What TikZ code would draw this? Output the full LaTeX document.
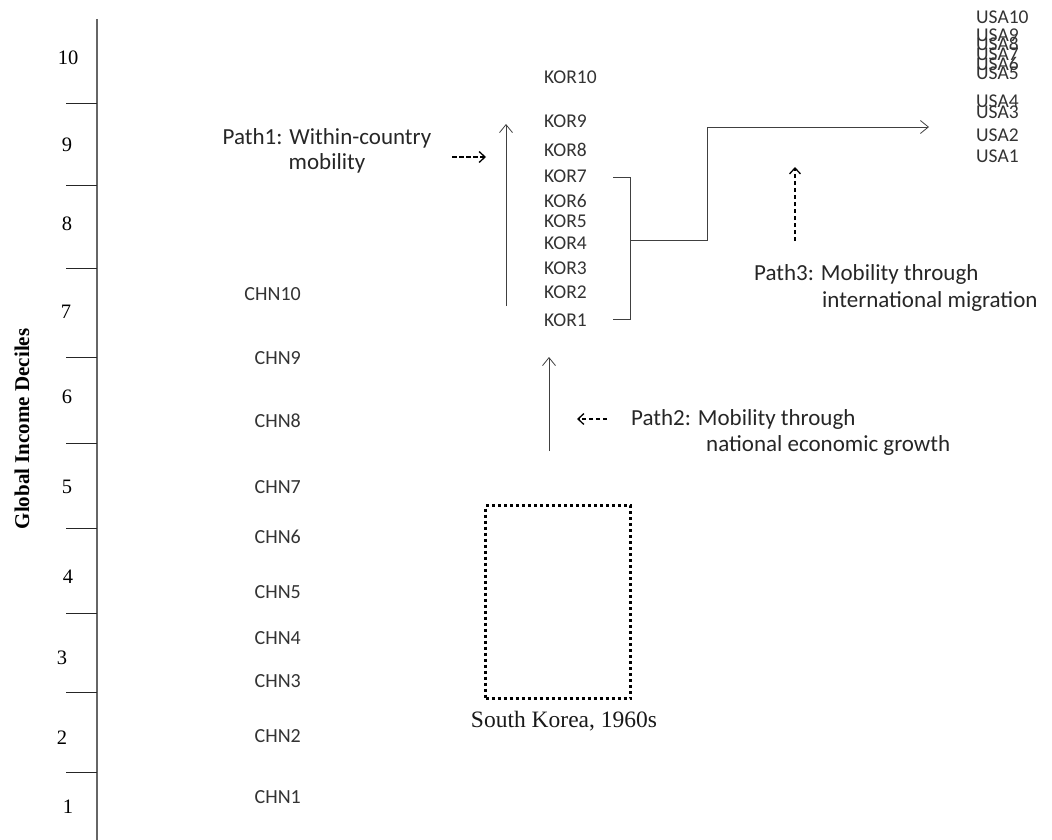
\documentclass[tikz,border=0pt]{standalone}
\usepackage{fontspec}
\setmainfont{Liberation Serif}
\newfontfamily\calib{Carlito}
\usetikzlibrary{arrows.meta}
\begin{document}
\begin{tikzpicture}[x=1pt,y=-1pt,
  lbl/.style={font=\calib\fontsize{19.5}{21}\selectfont, text=black!80, inner sep=0pt},
  ptxt/.style={font=\calib\fontsize{23}{26}\selectfont, text=black!85, inner sep=0pt, anchor=west},
  num/.style={font=\fontsize{20.5}{22}\selectfont, inner sep=0pt},
  conn/.style={draw=black!75, line width=0.8pt},
  arr/.style={conn, -{Straight Barb[length=8pt,width=13pt]}},
  darr/.style={draw=black, line width=1.3pt, dash pattern=on 4.5pt off 2.5pt, -{Straight Barb[length=6pt,width=11pt,line width=1.3pt]}},
  tick/.style={draw=black!85, line width=0.9pt}]
\useasboundingbox (0,0) rectangle (1052,840);

% axis
\coordinate (axtop) at (97,19);
\coordinate (axbot) at (97,840);
\draw[draw=black!60, line width=1.4pt] (axtop) -- (axbot);
\foreach \yy in {103,185,268,357,443,528,613,692,772}
  \draw[tick] (66,\yy) -- (97,\yy);
\foreach \n/\xx/\yy in {10/68/58,9/67/145,8/67/224,7/66/312,6/67/397,5/67/487,4/68/577,3/62/658,2/62/738,1/68/807}
  \node[num] (d\n) at (\xx,\yy) {\n};
\node[rotate=90, font=\bfseries\fontsize{21}{24}\selectfont, inner sep=0pt] (axlabel) at (22,429) {Global Income Deciles};

% China labels
\foreach \n/\yy in {10/294,9/358,8/421,7/487,6/537,5/592,4/638,3/681,2/736,1/797}
  \node[lbl, font=\calib\fontsize{20}{21}\selectfont, anchor=east] (chn\n) at (301,\yy) {CHN\n};

% Korea labels
\foreach \n/\yy in {10/77,9/121,8/150,7/176,6/201,5/221,4/243,3/268,2/292,1/320}
  \node[lbl, anchor=west] (kor\n) at (544,\yy) {KOR\n};

% USA labels
\foreach \n/\yy in {10/17,9/35,8/44,7/54,6/64,5/73,4/101,3/112,2/135,1/156}
  \node[lbl, anchor=west] (usa\n) at (976,\yy) {USA\n};

% Path 1
\coordinate (k1s) at (506,306);
\coordinate (k1e) at (506,124);
\draw[arr] (k1s) -- (k1e);
\node[font=\calib\fontsize{23}{25}\selectfont, text=black!85, align=center, inner sep=0pt] (p1) at (327,151) {Path1: Within-country\\mobility};
\coordinate (p1a) at (452,157);
\coordinate (p1b) at (486,157);
\draw[darr] (p1a) -- (p1b);

% bracket and migration path
\coordinate (b1) at (613,177);
\coordinate (b2) at (630,177);
\coordinate (b3) at (630,319);
\coordinate (b4) at (613,319);
\draw[conn] (b1) -- (b2) -- (b3) -- (b4);
\coordinate (m1) at (630,240);
\coordinate (m2) at (707,240);
\coordinate (m3) at (707,127);
\coordinate (m4) at (929,127);
\draw[arr] (m1) -- (m2) -- (m3) -- (m4);

% Path 3
\coordinate (p3a) at (795,241);
\coordinate (p3b) at (795,167);
\draw[darr] (p3a) -- (p3b);
\node[ptxt] (p3l1) at (754,274) {Path3: Mobility through};
\node[ptxt] (p3l2) at (822,301) {international migration};

% Path 2
\coordinate (g1) at (549,451);
\coordinate (g2) at (549,357);
\draw[arr] (g1) -- (g2);
\coordinate (p2a) at (607,419);
\coordinate (p2b) at (577,419);
\draw[darr] (p2a) -- (p2b);
\node[ptxt] (p2l1) at (631,419) {Path2: Mobility through};
\node[ptxt] (p2l2) at (706,445) {national economic growth};

% South Korea 1960s box
\node[draw=black, line width=3.2pt, dash pattern=on 3pt off 3pt, minimum width=145pt, minimum height=193pt, inner sep=0pt] (box) at (558,602) {};
\node[font=\fontsize{23.5}{26}\selectfont, text=black!90, inner sep=0pt] (boxlbl) at (564,721) {South Korea, 1960s};
\end{tikzpicture}
\end{document}
